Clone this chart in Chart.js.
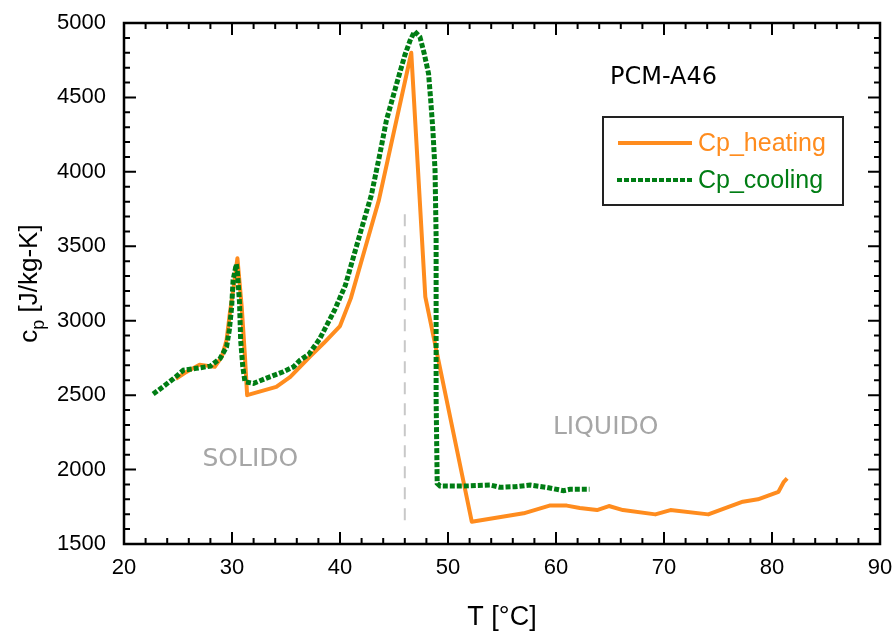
<!DOCTYPE html>
<html>
<head>
<meta charset="utf-8">
<script src="https://cdn.jsdelivr.net/npm/chart.js@4.4.1/dist/chart.umd.min.js"></script>
<style>
  html, body { margin: 0; padding: 0; background: #fff; }
  #wrap { width: 893px; height: 637px; }
</style>
</head>
<body>
<div id="wrap"><canvas id="myChart" width="893" height="637"></canvas></div>
<script>
// heating curve, T [°C] and cp [J/kg-K]
var heatT = [24.8, 25.65, 27.0, 28.4, 29.05, 29.5, 29.8, 30.2, 30.5, 30.9, 31.2, 31.4, 34.1, 35.4, 37.2,
    38.5, 40.0, 41.0, 42.3, 43.6, 46.6, 47.9, 52.2, 57.0, 59.4, 61.0, 62.2, 63.8, 64.9, 66.2,
    69.2, 70.6, 74.1, 77.3, 78.7, 80.6, 81.1, 81.4];
var heatCp = [2610, 2650, 2705, 2690, 2757, 2870, 3050, 3252, 3420, 3093, 2758, 2500, 2556, 2623, 2758,
    2850, 2964, 3150, 3480, 3810, 4800, 3160, 1650, 1706, 1758, 1758, 1742, 1728, 1755, 1728,
    1699, 1728, 1699, 1784, 1800, 1851, 1918, 1941];

// cooling curve
var coolT = [22.7, 23.6, 24.6, 25.5, 26.7, 28.0, 28.9, 29.5, 29.75, 29.97, 30.1, 30.4, 30.5, 30.7, 30.8,
    31.0, 31.2, 32.0, 33.5, 34.75, 35.7, 36.3, 37.1, 38.1, 39.5, 40.5, 42.0, 42.9, 43.7, 44.3,
    45.25, 46.0, 46.5, 46.9, 47.4, 47.8, 48.2, 48.4, 48.6, 48.8, 48.9, 48.9, 49.0, 49.26, 51.4,
    53.9, 54.8, 56.2, 57.6, 59.1, 60.7, 61.3, 63.1];
var coolCp = [2507, 2556, 2612, 2668, 2680, 2695, 2747, 2825, 2937, 3093, 3272, 3380, 3328, 3118, 2870,
    2690, 2590, 2579, 2623, 2657, 2690, 2735, 2773, 2876, 3071, 3239, 3620, 3843, 4123, 4347,
    4593, 4783, 4884, 4944, 4906, 4794, 4660, 4481, 4280, 4011, 3563, 2470, 1907, 1889, 1889,
    1896, 1881, 1885, 1896, 1881, 1858, 1867, 1867];

// melting point marker
var meltT = [46, 46];
var meltCp = [1660, 3730];

var xTicks = [20, 30, 40, 50, 60, 70, 80, 90];
var yTicks = [1500, 2000, 2500, 3000, 3500, 4000, 4500, 5000];
var seriesNames = ['Cp_heating', 'Cp_cooling'];

var orange = '#ff8c1e';
var green = '#007d14';

function pts(xs, ys) {
    return xs.map(function (v, i) { return { x: v, y: ys[i] }; });
}

var frame = {
    id: 'frame',
    afterDatasetsDraw: function (chart) {
        var ctx = chart.ctx, a = chart.chartArea, x = chart.scales.x, y = chart.scales.y;
        ctx.save();
        ctx.strokeStyle = '#000';
        ctx.lineWidth = 2;
        ctx.beginPath();
        for (var v = 20; v <= 90; v += 2) {
            var px = x.getPixelForValue(v);
            var len = v % 10 === 0 ? 12 : 6;
            ctx.moveTo(px, a.bottom); ctx.lineTo(px, a.bottom - len);
            ctx.moveTo(px, a.top); ctx.lineTo(px, a.top + len);
        }
        for (var w = 1500; w <= 5000; w += 100) {
            var py = y.getPixelForValue(w);
            var l2 = w % 500 === 0 ? 12 : 6;
            ctx.moveTo(a.left, py); ctx.lineTo(a.left + l2, py);
            ctx.moveTo(a.right, py); ctx.lineTo(a.right - l2, py);
        }
        ctx.stroke();
        ctx.lineWidth = 2.5;
        ctx.strokeRect(a.left, a.top, a.right - a.left, a.bottom - a.top);

        // region labels
        ctx.fillStyle = '#a6a6a6';
        ctx.font = '25px "DejaVu Sans"';
        ctx.textAlign = 'center';
        ctx.textBaseline = 'middle';
        ctx.fillText('SOLIDO', x.getPixelForValue(31.7), y.getPixelForValue(2070));
        ctx.fillText('LIQUIDO', x.getPixelForValue(64.6), y.getPixelForValue(2285));
        ctx.fillStyle = '#000';
        ctx.font = '24px "DejaVu Sans"';
        ctx.textAlign = 'left';
        ctx.fillText('PCM-A46', x.getPixelForValue(65.0), y.getPixelForValue(4630));

        // legend
        ctx.lineWidth = 2;
        ctx.strokeStyle = '#222';
        ctx.strokeRect(603, 117, 240, 88);
        ctx.lineWidth = 4;
        ctx.strokeStyle = orange;
        ctx.beginPath(); ctx.moveTo(618, 143); ctx.lineTo(692, 143); ctx.stroke();
        ctx.strokeStyle = green;
        ctx.setLineDash([5, 2]);
        ctx.beginPath(); ctx.moveTo(617, 180); ctx.lineTo(692, 180); ctx.stroke();
        ctx.setLineDash([]);
        ctx.font = '25px "Liberation Sans"';
        ctx.fillStyle = orange;
        ctx.fillText(seriesNames[0], 698, 144);
        ctx.fillStyle = green;
        ctx.fillText(seriesNames[1], 698, 181);

        // axis titles
        ctx.fillStyle = '#000';
        ctx.font = '27px "Liberation Sans"';
        ctx.textAlign = 'center';
        ctx.fillText('T [\u00B0C]', (a.left + a.right) / 2, 618);

        ctx.translate(30, (a.top + a.bottom) / 2);
        ctx.rotate(-Math.PI / 2);
        var big = '26px "Liberation Sans"', small = '18px "Liberation Sans"';
        ctx.font = big; var wc = ctx.measureText('c').width;
        var wr = ctx.measureText(' [J/kg-K]').width;
        ctx.font = small; var wp = ctx.measureText('p').width;
        var sx = -(wc + wp + wr) / 2;
        ctx.textAlign = 'left';
        ctx.font = big; ctx.fillText('c', sx, 0);
        ctx.font = small; ctx.fillText('p', sx + wc, 9);
        ctx.font = big; ctx.fillText(' [J/kg-K]', sx + wc + wp, 0);
        ctx.restore();
    }
};

function plain(v) { return String(v); }

var ctx = document.getElementById('myChart');
var myChart = new Chart(ctx, {
    type: 'line',
    data: {
        datasets: [{
            label: seriesNames[1],
            data: pts(coolT, coolCp),
            borderColor: green,
            borderWidth: 5,
            borderDash: [5, 2],
            borderCapStyle: 'butt',
            pointRadius: 0,
            tension: 0
        }, {
            label: seriesNames[0],
            data: pts(heatT, heatCp),
            borderColor: orange,
            borderWidth: 4,
            borderJoinStyle: 'round',
            pointRadius: 0,
            tension: 0
        }, {
            label: 'melt',
            data: pts(meltT, meltCp),
            borderColor: '#c8c8c8',
            borderWidth: 2,
            borderDash: [12, 9],
            pointRadius: 0
        }]
    },
    options: {
        responsive: false,
        animation: false,
        layout: { padding: { top: 23, right: 13, left: 0, bottom: 0 } },
        plugins: { legend: { display: false }, tooltip: { enabled: false } },
        scales: {
            x: {
                type: 'linear', min: 20, max: 90,
                afterFit: function (s) { s.height = 93; s.paddingLeft = 0; s.paddingRight = 0; },
                afterBuildTicks: function (s) { s.ticks = xTicks.map(function (v) { return { value: v }; }); },
                grid: { display: false, drawTicks: false },
                border: { display: false },
                ticks: { color: '#000', padding: 11, callback: plain, font: { family: 'Liberation Sans', size: 22 } }
            },
            y: {
                type: 'linear', min: 1500, max: 5000,
                afterFit: function (s) { s.width = 124; s.paddingTop = 0; s.paddingBottom = 0; },
                afterBuildTicks: function (s) { s.ticks = yTicks.map(function (v) { return { value: v }; }); },
                grid: { display: false, drawTicks: false },
                border: { display: false },
                ticks: { color: '#000', padding: 18, callback: plain, font: { family: 'Liberation Sans', size: 22 } }
            }
        }
    },
    plugins: [frame]
});
</script>
</body>
</html>
